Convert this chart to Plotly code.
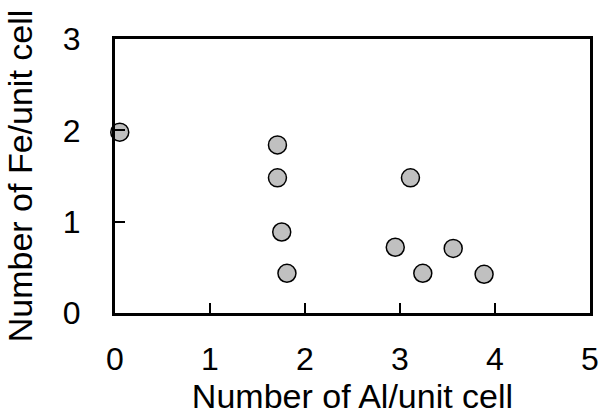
import plotly.graph_objects as go

al = [0.05, 1.71, 1.71, 1.755, 1.81, 3.11, 2.95, 3.24, 3.56, 3.885]
fe = [1.98, 1.84, 1.48, 0.887, 0.435, 1.48, 0.72, 0.435, 0.707, 0.424]

x_ticks = [0, 1, 2, 3, 4, 5]
y_ticks = [0, 1, 2, 3]

fig = go.Figure(go.Scatter(
    x=al, y=fe, mode="markers",
    marker=dict(size=18, color="#c0c0c0", line=dict(color="black", width=1.5)),
    cliponaxis=False,
))

font = "Liberation Sans, Arial, sans-serif"
fig.update_layout(
    width=611, height=416,
    margin=dict(l=115, r=12, t=39, b=103),
    paper_bgcolor="white", plot_bgcolor="white",
    showlegend=False,
    font=dict(family=font, color="black"),
)
axis_common = dict(
    showgrid=False, zeroline=False, showline=True, linecolor="black", linewidth=3,
    mirror=True, ticks="inside", ticklen=10, tickwidth=1.5, tickcolor="black",
    tickfont=dict(size=32, family=font, color="black"),
)
fig.update_xaxes(range=[0, 5], tickvals=x_ticks, ticktext=[str(v) for v in x_ticks],
                 title=dict(text="Number of Al/unit cell", font=dict(size=34, family=font), standoff=2),
                 ticklabelstandoff=16, **axis_common)
fig.update_yaxes(range=[0, 3], tickvals=y_ticks, ticktext=[str(v) for v in y_ticks],
                 title=dict(text="Number of Fe/unit cell", font=dict(size=34, family=font), standoff=20),
                 ticklabelstandoff=25, **axis_common)

fig.write_html("out.html")
